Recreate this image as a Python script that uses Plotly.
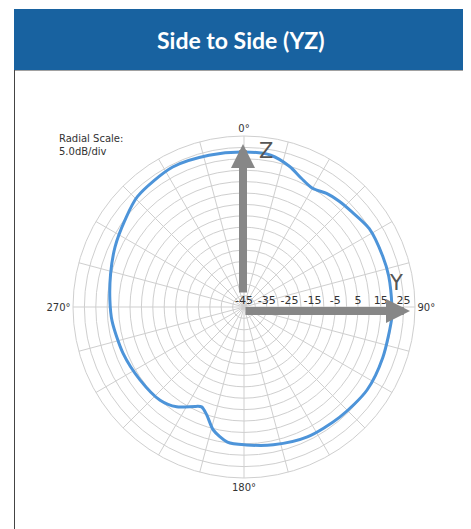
"""Diagrama polar de radiacao - lado a lado (YZ)."""

import plotly.graph_objects as go

W, H = 471, 529

# Angulo (graus, sentido horario a partir do topo) e ganho em dB
ANGULOS = [0, 10, 18, 24, 30, 36, 42, 48, 58, 70, 78, 90, 94, 110, 124, 139,
           154, 168, 179, 187, 194, 199, 203, 206, 214, 222, 235, 249, 264,
           273, 284, 295, 306, 316, 333, 347, 360]
GANHO_DB = [23.0, 22.6, 19.8, 16.8, 15.1, 16.6, 17.4, 18.0, 19.8, 19.8, 19.9,
            19.9, 20.0, 19.8, 20.1, 19.0, 18.4, 16.8, 15.5, 14.7, 10.6, 5.1,
            2.6, 3.5, 7.8, 10.0, 10.7, 11.8, 13.2, 13.9, 15.3, 17.4, 19.6,
            22.3, 23.9, 23.3, 23.0]

RAIO_TICKS = list(range(-45, 31, 5))
RAIO_LABELS = [str(v) if (v + 45) % 10 == 0 and v < 30 else "" for v in RAIO_TICKS]
ANG_TICKS = list(range(0, 360, 15))
ANG_LABELS = {0: "0°", 90: "90°", 180: "180°", 270: "270°"}

AZUL_HEADER = "#1862a0"
AZUL_CURVA = "#4d94d9"
CINZA_GRID = "#cfcfcf"
CINZA_SETA = "#878787"

# a pagina tem margem de 8px no body: posicoes abaixo sao da imagem final
OFF = 8
# centro do grafico em pixels e raio externo
CX, CY, R = 244, 307, 171


def px_x(x):
    return (x - OFF) / W


def px_y(y):
    return (H - (y - OFF)) / H


fig = go.Figure()
fig.add_trace(
    go.Scatterpolar(
        r=GANHO_DB,
        theta=ANGULOS,
        mode="lines",
        line=dict(color=AZUL_CURVA, width=3, shape="spline", smoothing=0.8),
        hoverinfo="skip",
        showlegend=False,
    )
)

fig.update_layout(
    width=W,
    height=H,
    margin=dict(l=0, r=0, t=0, b=0),
    paper_bgcolor="white",
    font=dict(family="DejaVu Sans", size=10, color="#333333"),
    polar=dict(
        domain=dict(x=[px_x(CX - R), px_x(CX + R)], y=[px_y(CY + R), px_y(CY - R)]),
        bgcolor="white",
        angularaxis=dict(
            rotation=90,
            direction="clockwise",
            tickmode="array",
            tickvals=ANG_TICKS,
            ticktext=[ANG_LABELS.get(a, "") for a in ANG_TICKS],
            ticks="",
            showline=True,
            linecolor=CINZA_GRID,
            linewidth=1,
            gridcolor=CINZA_GRID,
            gridwidth=1,
            tickfont=dict(size=10, color="#333333"),
        ),
        radialaxis=dict(
            range=[-45, 30],
            angle=0,
            side="counterclockwise",
            tickmode="array",
            tickvals=RAIO_TICKS,
            ticktext=RAIO_LABELS,
            ticks="",
            showline=False,
            gridcolor=CINZA_GRID,
            gridwidth=1,
            tickfont=dict(size=11, color="#333333"),
        ),
    ),
)

# cabecalho azul e borda do painel
fig.add_shape(type="rect", xref="paper", yref="paper",
              x0=px_x(14.5), x1=px_x(467), y0=px_y(540), y1=px_y(70),
              line=dict(color="#444444", width=1), fillcolor="rgba(0,0,0,0)", layer="below")
fig.add_shape(type="rect", xref="paper", yref="paper",
              x0=px_x(14), x1=1.0, y0=px_y(70), y1=px_y(9),
              line=dict(width=0), fillcolor=AZUL_HEADER)
fig.add_annotation(text="<b>Side to Side (YZ)</b>", xref="paper", yref="paper",
                   x=px_x(241), y=px_y(40), xanchor="center", yanchor="middle",
                   showarrow=False, font=dict(family="Lato", size=23, color="white"))

fig.add_annotation(text="Radial Scale:<br>5.0dB/div", xref="paper", yref="paper",
                   x=px_x(57), y=px_y(131), xanchor="left", yanchor="top", align="left",
                   showarrow=False, font=dict(size=10, color="#333333"))

# setas dos eixos Z e Y (Z para logo acima do rotulo -45)
fig.add_annotation(xref="paper", yref="paper", x=px_x(CX - 1), y=px_y(144),
                   ax=0, ay=294 - 144, text="", showarrow=True,
                   arrowhead=2, arrowsize=0.6, arrowwidth=8, arrowcolor=CINZA_SETA)
fig.add_annotation(xref="paper", yref="paper", x=px_x(410), y=px_y(311),
                   ax=-(410 - CX), ay=0, text="", showarrow=True,
                   arrowhead=2, arrowsize=0.6, arrowwidth=8, arrowcolor=CINZA_SETA)
fig.add_annotation(text="Z", xref="paper", yref="paper", x=px_x(266), y=px_y(151),
                   xanchor="center", yanchor="middle",
                   showarrow=False, font=dict(size=21, color="#555555"))
fig.add_annotation(text="Y", xref="paper", yref="paper", x=px_x(396), y=px_y(283),
                   xanchor="center", yanchor="middle",
                   showarrow=False, font=dict(size=21, color="#555555"))

fig.write_html("out.html")
